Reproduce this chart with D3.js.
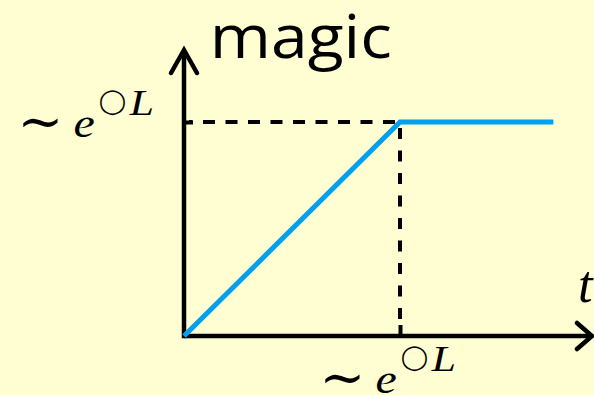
<!DOCTYPE html>
<html>
<head>
<meta charset="utf-8">
<script src="https://cdn.jsdelivr.net/npm/d3@7"></script>
<style>
  html, body { margin: 0; padding: 0; background: #FFFED2; }
  svg { display: block; }
</style>
</head>
<body>
<svg id="chart" width="594" height="395"></svg>
<script>
// Growth curve: "magic" rises linearly in t until a threshold, then saturates.
const tValues = [0, 1, 1.71];
const magicValues = [0, 1, 1];
const thresholdT = [1];
const thresholdMagic = [1];
const yLabel = "magic";
const xLabel = "t";

const svg = d3.select("#chart");

const x = d3.scaleLinear().domain([0, 1]).range([184, 400]);
const y = d3.scaleLinear().domain([0, 1]).range([336, 122]);

const ink = "#000";
const blue = "#00A0F0";
const axisW = 4.5;

// Axes with open arrowheads
const x0 = x(0), y0 = y(0);
const xTip = 592, yTip = 50;
svg.append("line").attr("x1", x0).attr("y1", y0).attr("x2", xTip - 2).attr("y2", y0)
  .attr("stroke", ink).attr("stroke-width", axisW);
svg.append("line").attr("x1", x0).attr("y1", y0 + axisW / 2).attr("x2", x0).attr("y2", yTip + 2)
  .attr("stroke", ink).attr("stroke-width", axisW);
svg.append("polyline")
  .attr("points", [[x0 - 13, yTip + 23], [x0, yTip], [x0 + 13, yTip + 23]].map(p => p.join(",")).join(" "))
  .attr("fill", "none").attr("stroke", ink).attr("stroke-width", axisW)
  .attr("stroke-linejoin", "miter").attr("stroke-linecap", "round");
svg.append("polyline")
  .attr("points", [[xTip - 15, y0 - 13], [xTip, y0], [xTip - 15, y0 + 13]].map(p => p.join(",")).join(" "))
  .attr("fill", "none").attr("stroke", ink).attr("stroke-width", axisW)
  .attr("stroke-linejoin", "miter").attr("stroke-linecap", "round");

// Ticks at the threshold, via d3 axes (domain paths hidden)
const xAxis = svg.append("g").attr("transform", `translate(0,${y0})`)
  .call(d3.axisBottom(x).tickValues(thresholdT).tickSize(-11).tickFormat(""));
const yAxis = svg.append("g").attr("transform", `translate(${x0},0)`)
  .call(d3.axisLeft(y).tickValues(thresholdMagic).tickSize(-9).tickFormat(""));
[xAxis, yAxis].forEach(g => {
  g.select(".domain").remove();
  g.selectAll(".tick line").attr("stroke", ink).attr("stroke-width", 4);
});

// Dashed guides to the threshold point
svg.append("line")
  .attr("x1", x0 + 5).attr("y1", y(thresholdMagic[0]))
  .attr("x2", x(thresholdT[0])).attr("y2", y(thresholdMagic[0]))
  .attr("stroke", ink).attr("stroke-width", 4).attr("stroke-dasharray", "12,10.5")
  .attr("stroke-dashoffset", -14);
svg.append("line")
  .attr("x1", x(thresholdT[0])).attr("y1", y(thresholdMagic[0]) + 3)
  .attr("x2", x(thresholdT[0])).attr("y2", y0 - 12)
  .attr("stroke", ink).attr("stroke-width", 4).attr("stroke-dasharray", "11,11.5")
  .attr("stroke-dashoffset", -3);

// Curve
const pts = tValues.map((t, i) => [x(t), y(magicValues[i])]);
svg.append("path")
  .attr("d", d3.line()(pts))
  .attr("fill", "none").attr("stroke", blue).attr("stroke-width", 5)
  .attr("stroke-linejoin", "miter");

// Place a text by its inked glyph box (canvas measureText gives ink extents).
// mode "box": fill [bx0,bx1]x[by0,by1], stretching horizontally by at most maxStretch;
// mode "height": size from the box height, left-aligned;
// mode "width": size from the box width, vertically centred in the box.
const measureCtx = document.createElement("canvas").getContext("2d");
function fitText(str, family, style, bx0, bx1, by0, by1, mode = "box", maxStretch = 1.2) {
  const ref = 100;
  measureCtx.font = `${style} ${ref}px ${family}`;
  const m = measureCtx.measureText(str);
  const L = m.actualBoundingBoxLeft, R = m.actualBoundingBoxRight;
  const A = m.actualBoundingBoxAscent, D = m.actualBoundingBoxDescent;
  let k, sx = 1, oy;
  if (mode === "width") {
    k = (bx1 - bx0) / (L + R);
    oy = (by0 + by1) / 2 + (A - D) * k / 2;
  } else {
    k = (by1 - by0) / (A + D);
    if (mode === "box") sx = Math.min(maxStretch, (bx1 - bx0) / ((L + R) * k));
    oy = by1 - D * k;
  }
  const ox = bx0 + L * k * sx;
  return svg.append("text")
    .attr("transform", `translate(${ox},${oy}) scale(${sx},1)`)
    .attr("font-family", family).attr("font-style", style)
    .attr("font-size", ref * k).attr("fill", ink).text(str);
}

// Axis titles
fitText(yLabel, "'Open Sans', sans-serif", "normal", 215, 390, 13, 72, "box", 1.1);
fitText(xLabel, "'Liberation Serif', serif", "italic", 580, 600, 273, 303, "height");

// Threshold labels: ∼ e^{◯L}
function mathLabel(dx, dy) {
  fitText("∼", "'Liberation Serif', 'DejaVu Serif', serif", "normal", 23 + dx, 58 + dx, 116 + dy, 130 + dy, "width");
  fitText("e", "'Liberation Serif', serif", "italic", 75 + dx, 100 + dx, 117 + dy, 137 + dy, "box", 1.15);
  fitText("◯", "'DejaVu Sans', sans-serif", "normal", 100 + dx, 125 + dx, 90 + dy, 115 + dy, "box", 1.2);
  fitText("L", "'Liberation Serif', serif", "italic", 129 + dx, 162 + dx, 92 + dy, 115 + dy, "box", 1.25);
}
mathLabel(0, 0);
mathLabel(302, 256);
</script>
</body>
</html>
